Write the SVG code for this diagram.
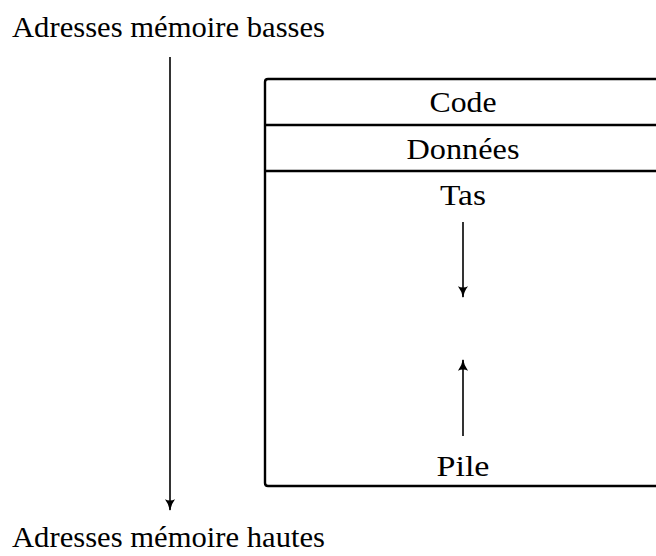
<svg xmlns="http://www.w3.org/2000/svg" width="656" height="556" viewBox="0 0 656 556" font-family="Liberation Serif, DejaVu Serif, serif">
<style>
text{font-family:'Liberation Serif','DejaVu Serif',serif;font-size:29px;fill:#000}
.c{text-anchor:middle}
.box{fill:none;stroke:#000;stroke-width:2.4;stroke-linejoin:round}
.arr{fill:none;stroke:#000;stroke-width:1.6}
</style>
<defs>
<marker id="ah" viewBox="0 0 10 10" refX="9" refY="5" markerWidth="12" markerHeight="12" markerUnits="userSpaceOnUse" orient="auto">
<path d="M0,0.8 Q4,4 10,5 Q4,6 0,9.2 Q2,5 0,0.8Z" fill="#000"/>
</marker>
</defs>
<g id="label-low"><text x="12" y="37" textLength="313" lengthAdjust="spacingAndGlyphs">Adresses mémoire basses</text></g>
<g id="label-high"><text x="12" y="547" textLength="313" lengthAdjust="spacingAndGlyphs">Adresses mémoire hautes</text></g>
<g id="memory">
<path class="box" d="M660,79 H268 Q265,79 265,82 V483 Q265,486 268,486 H660"/>
<line class="box" x1="265" y1="125" x2="660" y2="125"/>
<line class="box" x1="265" y1="171" x2="660" y2="171"/>
</g>
<g id="code"><text class="c" x="463" y="112" textLength="67" lengthAdjust="spacingAndGlyphs">Code</text></g>
<g id="donnees"><text class="c" x="463" y="159" textLength="113" lengthAdjust="spacingAndGlyphs">Données</text></g>
<g id="tas"><text class="c" x="463" y="205" textLength="46" lengthAdjust="spacingAndGlyphs">Tas</text></g>
<g id="pile"><text class="c" x="463" y="476" textLength="53" lengthAdjust="spacingAndGlyphs">Pile</text></g>
<g id="connectors">
<line class="arr" x1="170" y1="57" x2="170" y2="510" marker-end="url(#ah)"/>
<line class="arr" x1="463" y1="222" x2="463" y2="297" marker-end="url(#ah)"/>
<line class="arr" x1="463" y1="436" x2="463" y2="360" marker-end="url(#ah)"/>
</g>
</svg>
